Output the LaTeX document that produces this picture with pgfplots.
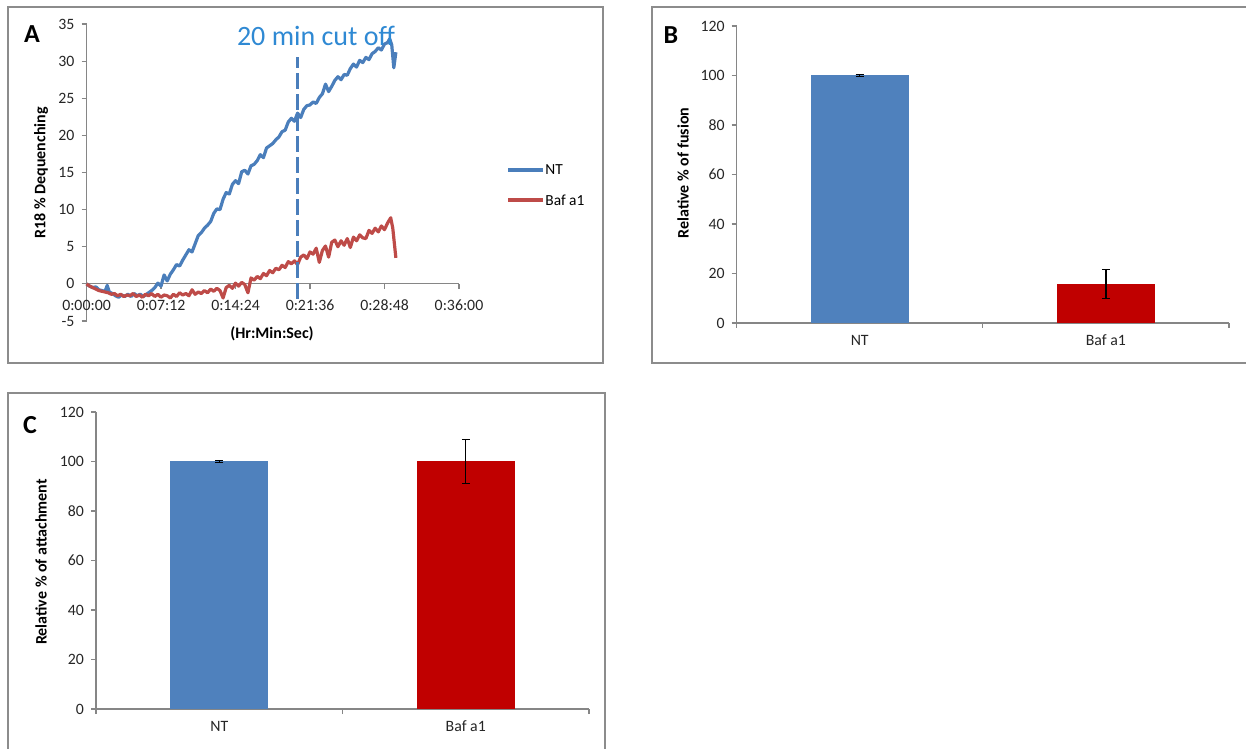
\documentclass[border=0pt]{standalone}
\usepackage{fontspec}
\setmainfont{Carlito}
\usepackage{pgfplots}
\pgfplotsset{compat=1.18}

\definecolor{ntblue}{RGB}{79,129,189}
\definecolor{ntline}{RGB}{74,126,187}
\definecolor{bafline}{RGB}{190,75,72}
\definecolor{bafred}{RGB}{192,0,0}
\definecolor{cutblue}{RGB}{47,137,211}
\definecolor{axgray}{RGB}{134,134,134}
\definecolor{framegray}{RGB}{140,140,140}

\pgfplotsset{
  xlsaxis/.style={
    scale only axis, anchor=south west, clip=false,
    axis line style={axgray, line width=0.6bp},
    tick style={axgray, line width=0.6bp},
    major tick length=2.5bp, minor tick length=2.5bp,
    tick align=outside,
    tick label style={font=\fontsize{7.9bp}{9bp}\selectfont, text=black!85},
    /pgf/number format/assume math mode=true,
  },
  barax/.style={
    xlsaxis, height=148.5bp,
    xmin=-0.5, xmax=1.5, ymin=0, ymax=120, ytick={0,20,...,120},
    axis x line*=bottom, axis y line*=left,
    xtick={0,1}, xticklabels={NT,Baf a1},
    minor xtick={-0.5,0.5,1.5},
    major x tick style={draw=none},
    ybar, bar width=49bp,
  },
  % error bars as a plain (non-bar) plot drawn after the bars
  errbar/.style={
    sharp plot, bar shift=0pt, draw=none, mark=none, forget plot,
    error bars/.cd, y dir=both, y explicit,
    error bar style={draw=black, line width=0.6bp},
    error mark options={rotate=90, mark size=2bp, draw=black, line width=0.6bp},
  },
}

\newcommand\ttl{\fontsize{8bp}{9.5bp}\selectfont\bfseries}

\begin{document}
\begin{tikzpicture}
\useasboundingbox (0,0) rectangle (623bp,374.5bp);

% panel frames
\draw[framegray, line width=0.8bp] (4bp,193bp) rectangle (301.5bp,371bp);
\draw[framegray, line width=0.8bp] (326bp,193bp) rectangle (628bp,371bp);
\draw[framegray, line width=0.8bp] (4bp,-3bp) rectangle (302.5bp,178bp);

% ---------- A ----------
\begin{axis}[xlsaxis, at={(43.25bp,214bp)}, width=186.25bp, height=148.5bp,
  xmin=0, xmax=36, ymin=-5, ymax=35, ytick={-5,0,...,35},
  axis x line*=middle, axis y line*=left,
  hide obscured x ticks=false, hide obscured y ticks=false,
  xtick={0,7.2,14.4,21.6,28.8,36},
  xticklabels={0:00:00,0:07:12,0:14:24,0:21:36,0:28:48,0:36:00},
  xticklabel style={yshift=-2bp}]
\addplot[ntline, line width=1.6bp, line join=round] coordinates {
(0,0) (0.3,-0.3) (0.6,-0.5) (0.9,-0.4) (1.2,-0.8) (1.5,-0.9) (1.8,-1.0)
(2.0,-0.2) (2.2,-1.1) (2.5,-1.3) (2.8,-1.6) (3.1,-1.8) (3.4,-1.5) (3.7,-1.7)
(4.0,-1.4) (4.3,-1.7) (4.6,-1.3) (4.9,-1.6) (5.2,-1.4) (5.5,-1.7) (5.8,-1.4)
(6.0,-1.2) (6.3,-0.9) (6.6,-0.5) (6.9,0.1) (7.2,-0.3) (7.5,1.2) (7.8,0.4)
(8.1,1.3) (8.4,1.9) (8.7,2.6) (9.0,2.4) (9.3,3.2) (9.6,3.9) (9.9,4.6)
(10.2,4.3) (10.5,5.4) (10.8,6.5) (11.1,6.9) (11.4,7.5) (11.7,7.9) (12.0,8.4)
(12.3,9.5) (12.6,10.1) (12.9,10.0) (13.2,11.4) (13.5,12.3) (13.8,12.1) (14.1,13.4)
(14.4,13.9) (14.7,13.5) (15.0,15.1) (15.3,15.3) (15.6,14.8) (15.9,15.9) (16.2,16.1)
(16.5,16.6) (16.8,17.4) (17.1,17.0) (17.4,18.3) (17.7,18.6) (18.0,18.9) (18.3,19.4)
(18.6,19.8) (18.9,20.5) (19.2,20.7) (19.5,21.8) (19.8,22.3) (20.1,21.9) (20.4,23.0)
(20.7,22.4) (21.0,23.5) (21.3,24.0) (21.6,24.1) (21.9,24.5) (22.2,24.3) (22.5,25.1)
(22.8,25.6) (23.1,26.9) (23.4,25.9) (23.7,26.6) (24.0,27.4) (24.3,27.9) (24.6,27.5)
(24.9,28.2) (25.2,28.1) (25.5,29.0) (25.8,29.6) (26.1,29.2) (26.4,30.1) (26.7,29.8)
(27.0,30.5) (27.3,30.2) (27.6,31.0) (27.9,31.3) (28.2,31.8) (28.5,31.5) (28.8,32.3)
(29.1,32.5) (29.3,33.0) (29.5,32.2) (29.7,29.1) (29.9,31.2)};
\addplot[bafline, line width=1.6bp, line join=round] coordinates {
(0,0) (0.3,-0.3) (0.6,-0.5) (0.9,-0.7) (1.2,-0.9) (1.5,-1.0) (1.8,-1.1)
(2.1,-1.2) (2.4,-1.4) (2.7,-1.3) (3.0,-1.6) (3.3,-1.4) (3.6,-1.7) (3.9,-1.5)
(4.2,-1.6) (4.5,-1.3) (4.8,-1.7) (5.1,-1.5) (5.4,-1.8) (5.7,-1.4) (6.0,-1.6)
(6.3,-1.3) (6.6,-1.7) (6.9,-1.4) (7.2,-1.8) (7.5,-1.5) (7.8,-1.6) (8.1,-1.9)
(8.4,-1.4) (8.7,-1.7) (9.0,-1.2) (9.3,-1.5) (9.6,-1.3) (9.9,-1.6) (10.2,-0.8)
(10.5,-1.4) (10.8,-1.1) (11.1,-1.3) (11.4,-0.9) (11.7,-1.2) (12.0,-0.7) (12.3,-1.0)
(12.6,-0.6) (12.9,-0.9) (13.2,-1.9) (13.5,-0.5) (13.8,-0.2) (14.1,-0.6) (14.4,0.1)
(14.7,-0.3) (15.0,0.2) (15.3,-0.1) (15.6,-1.2) (15.9,0.8) (16.2,0.5) (16.5,1.0)
(16.8,0.7) (17.1,1.4) (17.4,1.1) (17.7,1.8) (18.0,1.5) (18.3,2.1) (18.6,1.9)
(18.9,2.5) (19.2,2.2) (19.5,3.0) (19.8,2.7) (20.1,3.1) (20.4,2.6) (20.7,3.6)
(21.0,3.9) (21.3,3.4) (21.6,4.3) (21.9,4.0) (22.2,4.8) (22.5,2.9) (22.8,4.5)
(23.1,5.1) (23.4,3.6) (23.7,5.6) (24.0,5.9) (24.3,5.0) (24.6,5.8) (24.9,5.2)
(25.2,6.1) (25.5,4.9) (25.8,6.3) (26.1,5.8) (26.4,6.6) (26.7,6.2) (27.0,6.1)
(27.3,7.2) (27.6,6.8) (27.9,7.5) (28.2,7.0) (28.5,7.8) (28.8,7.3) (29.1,8.2)
(29.4,8.9) (29.6,7.5) (29.9,3.5)};
% 20 min cut off marker
\addplot[ntline, line width=1.6bp, dash pattern=on 8bp off 2.5bp] coordinates {(20.4,-2) (20.4,30.5)};
\end{axis}

\node[font=\fontsize{14bp}{16bp}\selectfont, text=cutblue] at (158bp,356.5bp) {20 min cut off};
\node[font=\ttl, rotate=90] at (20.5bp,288bp) {R18 \% Dequenching};
\node[font=\ttl] at (136bp,207.5bp) {(Hr:Min:Sec)};
\draw[ntline, line width=1.6bp] (254bp,289.5bp) -- (271.5bp,289.5bp);
\draw[bafline, line width=1.6bp] (254bp,274.5bp) -- (271.5bp,274.5bp);
\node[anchor=west, inner sep=0.5bp, font=\fontsize{7.7bp}{9bp}\selectfont] at (272bp,289.5bp) {NT};
\node[anchor=west, inner sep=0.5bp, font=\fontsize{7.7bp}{9bp}\selectfont] at (272bp,274.5bp) {Baf a1};

% ---------- B ----------
\begin{axis}[barax, at={(368.3bp,213bp)}, width=246.2bp]
\addplot[fill=ntblue, draw=none, bar shift=0pt] coordinates {(0,100)};
\addplot[fill=bafred, draw=none, bar shift=0pt] coordinates {(1,15.8)};
\addplot[errbar] coordinates {(0,100) +- (0,0.3) (1,15.8) +- (0,5.8)};
\end{axis}
\node[font=\ttl, rotate=90] at (341.5bp,288bp) {Relative \% of fusion};

% ---------- C ----------
\begin{axis}[barax, at={(48bp,20bp)}, width=246.5bp]
\addplot[fill=ntblue, draw=none, bar shift=0pt] coordinates {(0,100)};
\addplot[fill=bafred, draw=none, bar shift=0pt] coordinates {(1,100)};
\addplot[errbar] coordinates {(0,100) +- (0,0.3) (1,100) +- (0,8.9)};
\end{axis}
\node[font=\ttl, rotate=90] at (20.5bp,93.5bp) {Relative \% of attachment};

% panel letters
\node[font=\fontsize{13bp}{15bp}\selectfont\bfseries] at (16bp,357.5bp) {A};
\node[font=\fontsize{13bp}{15bp}\selectfont\bfseries] at (335.5bp,357bp) {B};
\node[font=\fontsize{13bp}{15bp}\selectfont\bfseries] at (15bp,162bp) {C};
\end{tikzpicture}
\end{document}
